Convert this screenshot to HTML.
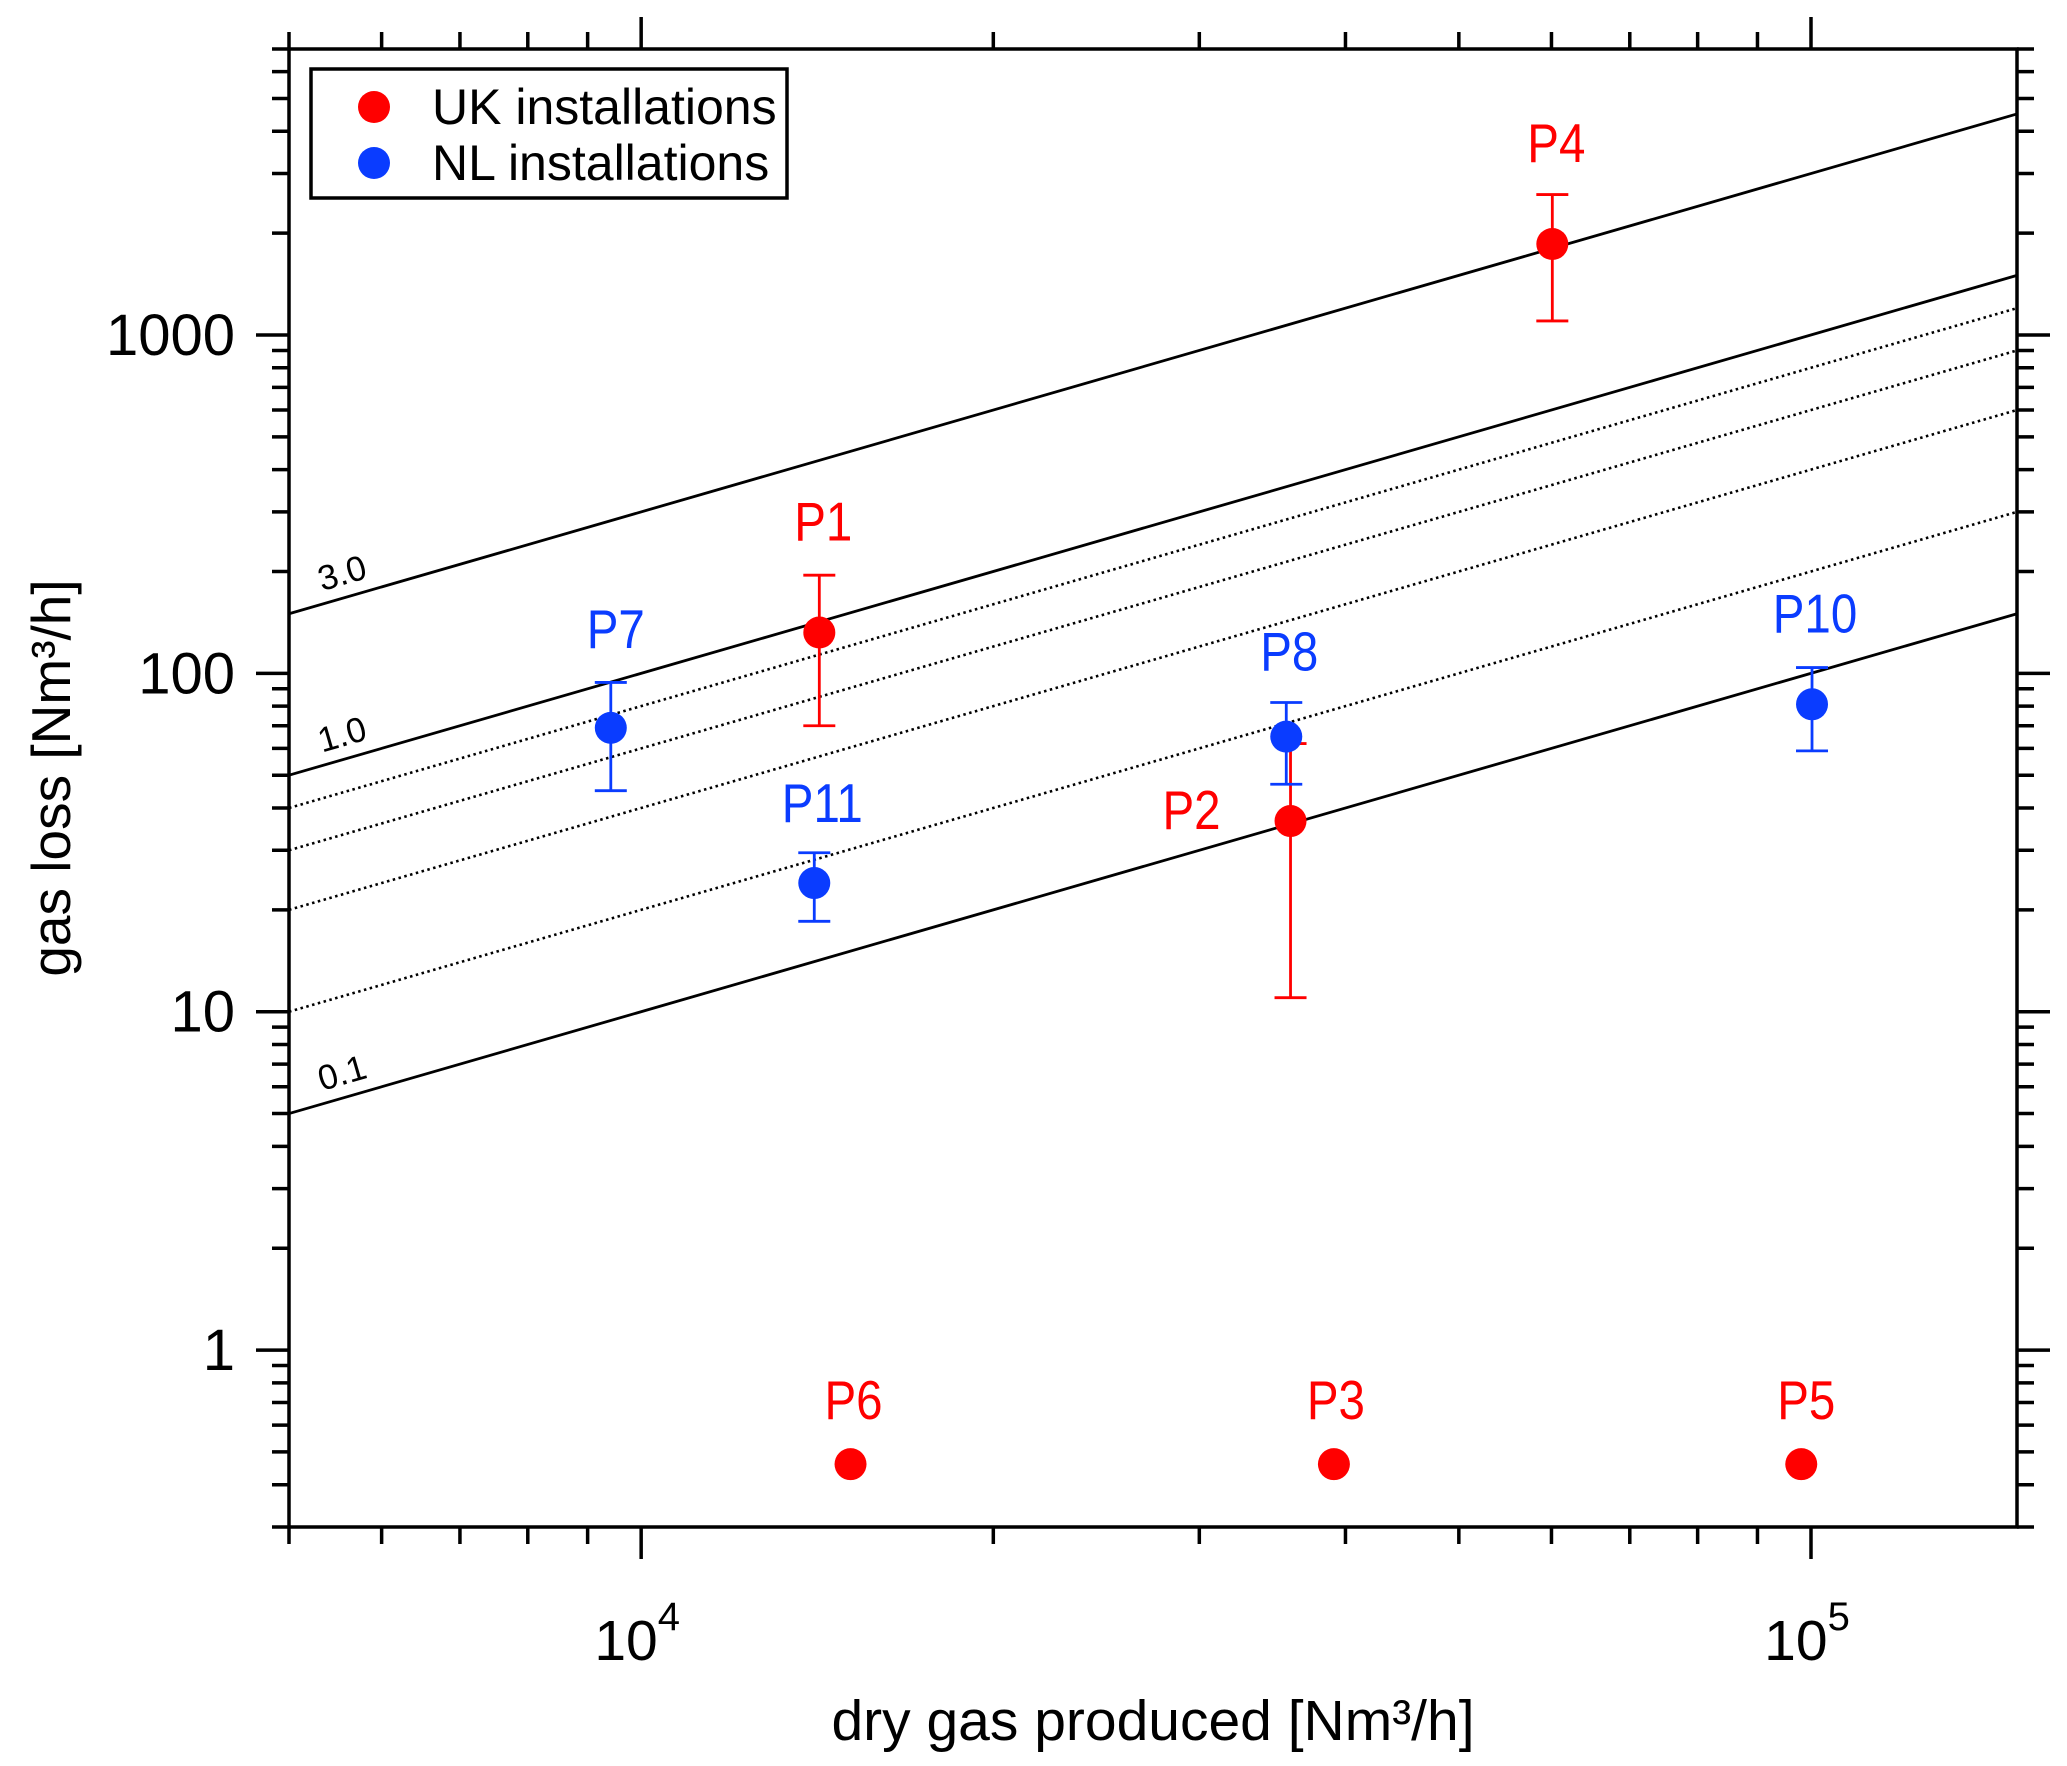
<!DOCTYPE html>
<html><head><meta charset="utf-8">
<style>
html,body{margin:0;padding:0;background:#fff;}
svg{display:block;font-family:"Liberation Sans",sans-serif;}
</style></head>
<body>
<svg id="chart" width="2067" height="1766" viewBox="0 0 2067 1766" xmlns="http://www.w3.org/2000/svg">
<g id="lines"></g>
<g id="points"></g>
<g id="axes"></g>
<text x="1153" y="1740" font-size="57" text-anchor="middle">dry gas produced [Nm³/h]</text>
<text transform="translate(70,778) rotate(-90)" font-size="55" text-anchor="middle">gas loss [Nm³/h]</text>
<g>
<rect x="311" y="69" width="476" height="129" fill="#fff" stroke="#000" stroke-width="3.5"/>
<circle cx="374" cy="107" r="16" fill="#ff0000"/>
<text x="432" y="124" font-size="50">UK installations</text>
<circle cx="374" cy="163" r="16" fill="#0a3cff"/>
<text x="432" y="180" font-size="50">NL installations</text>
</g>
</svg>
<script>
const NS="http://www.w3.org/2000/svg";
const xMin=5000,xMax=150000,yMin=0.3,yMax=7000;
const L=289,R=2017,T=49,B=1527;
const xTickMajor=[1e4,1e5];
const yTickMajor=[1,10,100,1000];
const yTickLabels=["1","10","100","1000"];
const linePercents=[3.0,1.0,0.8,0.6,0.4,0.2,0.1];
const lineDotted=[false,false,true,true,true,true,false];
const lineLabels=["3.0","1.0","","","","","0.1"];
const ptNames=["P1","P2","P3","P4","P5","P6","P7","P8","P10","P11"];
const ptGroup=["UK","UK","UK","UK","UK","UK","NL","NL","NL","NL"];
const ptX=[14200,35900,39100,60100,98100,15100,9420,35600,100200,14060];
const ptY=[132,36.6,0.46,1857,0.46,0.46,69,65,81,24];
const ptLo=[70,11,null,1100,null,null,45,47,59,18.5];
const ptHi=[195,62,null,2600,null,null,94,82,104,29.5];
const lblDx=[4,-99,2,4,5,3,5,3,3,8];
const lblDy=[-92,8,-45,-82,-45,-45,-80,-66,-72,-61];
function xs(v){return L+(Math.log10(v)-Math.log10(xMin))/(Math.log10(xMax)-Math.log10(xMin))*(R-L);}
function ys(v){return B-(Math.log10(v)-Math.log10(yMin))/(Math.log10(yMax)-Math.log10(yMin))*(B-T);}
function mk(tag,attrs,parent){const e=document.createElementNS(NS,tag);for(const k in attrs)e.setAttribute(k,attrs[k]);parent.appendChild(e);return e;}
const axes=document.getElementById('axes'),lines=document.getElementById('lines'),pts=document.getElementById('points');
const fr=mk('rect',{x:L,y:T,width:R-L,height:B-T,fill:'none',stroke:'#000','stroke-width':3.5},axes);


for(let d=3;d<=5;d++){for(let m=1;m<10;m++){const v=m*Math.pow(10,d);if(v<xMin-1||v>xMax+1)continue;
 const x=xs(v);const major=(m===1);const len=major?32:17;
 const t1=mk('line',{x1:x,x2:x,y1:B,y2:B+len,stroke:'#000','stroke-width':3.5},axes);
 
 
 const t2=mk('line',{x1:x,x2:x,y1:T,y2:T-len,stroke:'#000','stroke-width':3.5},axes);
 
 
}}
xTickMajor.forEach(v=>{const x=xs(v);const t=mk('text',{x:x-4,y:1660,'font-size':57,'text-anchor':'middle'},axes);
 
 
 t.textContent='10';const s=mk('tspan',{dy:-30,'font-size':40},t);s.textContent=String(Math.round(Math.log10(v)));});
for(let d=-1;d<=3;d++){for(let m=1;m<10;m++){const v=m*Math.pow(10,d);if(v<yMin-1e-9||v>yMax+1)continue;
 const y=ys(v);const major=(m===1);const len=major?33:17;
 const t1=mk('line',{x1:L,x2:L-len,y1:y,y2:y,stroke:'#000','stroke-width':3.5},axes);
 
 
 const t2=mk('line',{x1:R,x2:R+len,y1:y,y2:y,stroke:'#000','stroke-width':3.5},axes);
 
 
}}
yTickMajor.forEach((v,i)=>{const t=mk('text',{x:235,y:ys(v)+20,'font-size':58,'text-anchor':'end'},axes);
 
 
 t.textContent=yTickLabels[i];});
const ang=-Math.atan((ys(1)-ys(10))/(xs(1e5)-xs(1e4)))*180/Math.PI;
linePercents.forEach((p,i)=>{const f=p/100;
 const ln=mk('line',{x1:xs(xMin),y1:ys(xMin*f),x2:xs(xMax),y2:ys(xMax*f),stroke:'#000','stroke-width':lineDotted[i]?2.6:2.8},lines);
 if(lineDotted[i])ln.setAttribute('stroke-dasharray','2.5 3.5');
 
 
 if(lineLabels[i]){const x=xs(xMin)+33,y=ys(xMin*f)-(33*Math.tan(-ang*Math.PI/180))-13;
  const t=mk('text',{x:x,y:y,'font-size':35,transform:'rotate('+ang+' '+x+' '+y+')'},lines);
  
  
  t.textContent=lineLabels[i];}
});
ptNames.forEach((n,i)=>{const col=ptGroup[i]==='UK'?'#ff0000':'#0a3cff';
 const x=xs(ptX[i]),y=ys(ptY[i]);
 const g=mk('g',{},pts);
 
 
 if(ptLo[i]!=null){const y1=ys(ptHi[i]),y2=ys(ptLo[i]);
  const e=mk('path',{d:`M${x},${y1}V${y2}M${x-16},${y1}H${x+16}M${x-16},${y2}H${x+16}`,stroke:col,'stroke-width':2.8,fill:'none'},g);
  
  }
 const c=mk('circle',{cx:x,cy:y,r:16,fill:col},g);
 
 
 const t=mk('text',{x:x+lblDx[i],y:y+lblDy[i],'font-size':50,'text-anchor':'middle',fill:col,transform:`translate(${x+lblDx[i]},${y+lblDy[i]}) scale(0.95,1.1) translate(${-(x+lblDx[i])},${-(y+lblDy[i])})`},g);
 
 
 t.textContent=n;
});
</script>
</body></html>
